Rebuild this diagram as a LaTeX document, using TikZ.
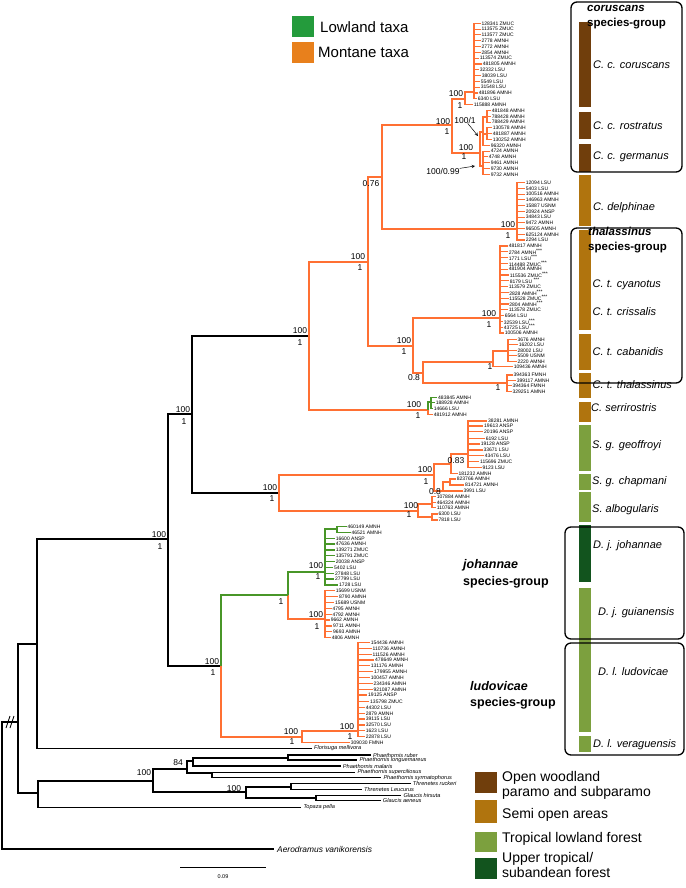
\documentclass[tikz,border=0pt]{standalone}
\usepackage{fontspec}
\setmainfont{Liberation Sans}
\usetikzlibrary{arrows,calc}
\definecolor{MontaneClr}{RGB}{255,112,51}
\definecolor{LowlandClr}{RGB}{72,150,40}
\definecolor{LegLowClr}{RGB}{36,155,60}
\definecolor{LegMonClr}{RGB}{232,128,28}
\definecolor{WoodClr}{RGB}{112,62,12}
\definecolor{SemiClr}{RGB}{176,116,14}
\definecolor{ForestClr}{RGB}{124,160,62}
\definecolor{UpperClr}{RGB}{18,84,30}

\tikzset{
  bbone/.style={line width=1.4pt,black},
  mont/.style={line width=1.6pt,MontaneClr},
  lowl/.style={line width=1.6pt,LowlandClr},
  outg/.style={line width=1.1pt,black},
  tiptxt/.style={anchor=west,inner sep=0.7pt,font=\fontsize{5}{5}\selectfont},
  ogtxt/.style={anchor=west,inner sep=2pt,font=\fontsize{5.6}{6}\selectfont\itshape},
  supp/.style={inner sep=0pt,font=\fontsize{8.5}{9}\selectfont},
  taxon/.style={anchor=west,inner sep=0pt,font=\fontsize{11}{13}\selectfont\itshape},
  grp/.style={anchor=west,align=left,inner sep=0pt,font=\fontsize{11.5}{15}\selectfont\bfseries},
  legtxt/.style={anchor=west,align=left,inner sep=0pt,font=\fontsize{14}{15}\selectfont},
  arw/.style={-stealth,line width=.5pt,black}
}

% tips of one cluster: style, parent, prefix, list x/y/label
\newcommand{\tipset}[4]{%
  \foreach \lx/\ly/\txt [count=\i] in {#4}{%
    \node[tiptxt] (#3-\i) at (\lx,\ly) {\txt};
    \draw[#1,line width=1.1pt] (#2) |- (#3-\i.west);
  }%
}
\newcommand{\ogtips}[3]{%
  \foreach \lx/\ly/\txt [count=\i] in {#3}{%
    \node[ogtxt] (#2-\i) at (\lx,\ly) {\txt};
    \draw[outg] (#1) |- (#2-\i.west);
  }%
}

\begin{document}
\begin{tikzpicture}[x=1pt,y=-1pt]
\useasboundingbox (0,0) rectangle (685,888);

% tree nodes
\coordinate (R) at (2,785);
\coordinate (n1) at (18,722);
\coordinate (n2) at (37,644);
\coordinate (n3) at (168,539);
\coordinate (n4) at (192,414);
\coordinate (nC) at (309,336);
\coordinate (nA) at (368,262);
\coordinate (nB) at (382,177);
\coordinate (nCor) at (452,125);
\coordinate (nCc) at (465,99);
\coordinate (kC) at (474,92);
\coordinate (nCr) at (480,153);
\coordinate (kR1) at (483,132);
\coordinate (kR1a) at (487,117);
\coordinate (kR1b) at (487,134);
\coordinate (kG) at (483,166);
\coordinate (nDel) at (517,229);
\coordinate (nT) at (413,346);
\coordinate (nTc) at (500,318);
\coordinate (nTb) at (423,373);
\coordinate (nTcab) at (493,362);
\coordinate (kCab) at (508,351);
\coordinate (nTth) at (507,383);
\coordinate (nSer) at (428,410);
\coordinate (kSer) at (431,402);
\coordinate (nS) at (279,493);
\coordinate (nSg) at (434,475);
\coordinate (nGeo) at (451,464);
\coordinate (kGeo) at (468,454);
\coordinate (nCha) at (443,491);
\coordinate (kCha) at (450,482);
\coordinate (nSa) at (418,511);
\coordinate (kSa1) at (432,504);
\coordinate (kSa2) at (432,517);
\coordinate (nJ) at (221,666);
\coordinate (nJj) at (288,595);
\coordinate (nJo) at (325,572);
\coordinate (kJo) at (337,529);
\coordinate (nJg) at (325,619);
\coordinate (nL) at (302,737);
\coordinate (nLu) at (358,731);
\coordinate (nOG) at (38,793);
\coordinate (nPh) at (153,781);
\coordinate (nP) at (187,769);
\coordinate (kP1) at (193,761);
\coordinate (kP1a) at (288,758);
\coordinate (kP2) at (212,773);
\coordinate (nTG) at (246,792);
\coordinate (kT1) at (291,787);
\coordinate (kT2) at (316,798);

% legend (top)
\fill[LegLowClr] (292,16) rectangle (314,37);
\fill[LegMonClr] (292,42) rectangle (314,63);
\node[anchor=west,inner sep=0pt,font=\fontsize{15}{15}\selectfont] (legLow) at (320,27) {Lowland taxa};
\node[anchor=west,inner sep=0pt,font=\fontsize{15}{15}\selectfont] (legMon) at (318,52) {Montane taxa};

% backbone
\draw[bbone] (R) |- (n1) (n1) |- (n2) (n1) |- (nOG) (n2) |- (n3)
  (n3) |- (n4) (n3) |- (nJ) (n4) |- (nC) (n4) |- (nS);
\draw[bbone,line width=.8pt] (6,728) -- (10,716) (10,728) -- (14,716);

% montane clades
\draw[mont] (nC) |- (nA) (nC) |- (nSer) (nA) |- (nB) (nA) |- (nT)
  (nB) |- (nCor) (nB) |- (nDel) (nCor) |- (nCc) (nCor) |- (nCr)
  (nCc) |- (kC) (nCr) |- (kR1) (nCr) |- (kG) (kR1) |- (kR1a) (kR1) |- (kR1b)
  (nT) |- (nTc) (nT) |- (nTb) (nTb) |- (nTcab) (nTb) |- (nTth) (nTcab) |- (kCab)
  (nS) |- (nSg) (nS) |- (nSa) (nSg) |- (nGeo) (nSg) |- (nCha)
  (nGeo) |- (kGeo) (nCha) |- (kCha) (nSa) |- (kSa1) (nSa) |- (kSa2)
  (nJ) |- (nL) (nJj) |- (nJg) (nL) |- (nLu);
\draw[lowl] (nSer) |- (kSer) (nJ) |- (nJj) (nJj) |- (nJo) (nJo) |- (kJo);

% tips
\tipset{mont}{kC}{cor}{480.7/23.3/128341 ZMUC, 480.7/29.1/113575 ZMUC, 480.7/34.9/113577 ZMUC, 480.7/40.7/2778 AMNH, 480.7/46.5/2772 AMNH, 480.7/52.4/2854 AMNH, 479/58.2/113574 ZMUC, 482/64/481805 AMNH, 479/69.8/32332 LSU, 481/75.6/38039 LSU, 480/81.4/5549 LSU, 480/87.2/31548 LSU, 478/93/481896 AMNH, 477/98.8/6340 LSU}
\tipset{mont}{nCc}{corb}{473/104.6/115888 AMNH}
\tipset{mont}{kR1a}{ros}{491/110.5/481848 AMNH, 491/116.3/788428 AMNH, 491/122.1/788429 AMNH}
\tipset{mont}{kR1b}{rosb}{492/127.9/130578 AMNH, 492/133.7/481887 AMNH, 492/139.5/130252 AMNH}
\tipset{mont}{kR1}{rosc}{490/145.3/96320 AMNH}
\tipset{mont}{kG}{ger}{490/151.1/4724 AMNH, 488/156.9/4748 AMNH, 490/162.7/9461 AMNH, 490/168.5/9730 AMNH, 490/174.3/9732 AMNH}
\tipset{mont}{nDel}{del}{525/182.7/12094 LSU, 525/188.4/5403 LSU, 525/194.2/100516 AMNH, 525/199.9/146963 AMNH, 525/205.6/15887 USNM, 525/211.4/20924 ANSP, 525/217.1/34843 LSU, 525/222.8/9472 AMNH, 525/228.5/96505 AMNH, 525/234.3/625124 AMNH, 525/240/2294 LSU}
\tipset{mont}{nTc}{cya}{508/246/481817 AMNH, 508/251.8/2784 AMNH\textsuperscript{***}, 508/257.6/1771 LSU\textsuperscript{***}, 508/263.4/114488 ZMUC\textsuperscript{***}, 508/269.2/481904 AMNH, 509/275/115536 ZMUC\textsuperscript{***}, 509/280.8/8179 LSU \textsuperscript{***}, 508/286.6/113579 ZMUC, 508.5/292.4/2828 AMNH\textsuperscript{***}, 508.5/298.2/115528 ZMUC\textsuperscript{***}, 508.5/304/2804 AMNH\textsuperscript{***}, 508/309.8/113578 ZMUC, 504/315.6/6564 LSU, 503/321.4/32539 LSU\textsuperscript{***}, 503/327.2/43725 LSU\textsuperscript{***}, 504/333/100506 AMNH}
\tipset{mont}{kCab}{cab}{516.7/339.3/3676 AMNH, 518/344.8/16202 LSU, 516.7/350.3/28002 LSU, 516.7/355.8/5509 USNM, 516.7/361.3/2220 AMNH}
\tipset{mont}{nTcab}{cabb}{513/366.8/109436 AMNH}
\tipset{mont}{nTth}{tha}{512.7/375/394363 FMNH, 516/380.7/399117 AMNH, 511.7/385.7/394364 FMNH, 511.7/391.7/329251 AMNH}
\tipset{lowl}{kSer}{ser}{437.3/397.3/483845 AMNH, 435/402.7/188928 AMNH, 433/408.3/14666 LSU}
\tipset{mont}{nSer}{serb}{433/414.3/481912 AMNH}
\tipset{mont}{kGeo}{geo}{487.3/421/38281 AMNH, 483.3/426/19613 ANSP, 483.3/431.7/20196 ANSP, 485/438.3/6192 LSU, 480/444/19128 ANSP, 482.7/450/33671 LSU, 484/455.7/43476 LSU, 479.3/461.7/115696 ZMUC, 481.7/467.7/9123 LSU}
\tipset{mont}{nGeo}{geob}{457.7/473.3/181232 AMNH}
\tipset{mont}{kCha}{cha}{456/479/823766 AMNH, 464.3/485/814721 AMNH}
\tipset{mont}{nCha}{chab}{462.7/491/3991 LSU}
\tipset{mont}{kSa1}{alb}{436/496.7/107884 AMNH, 436/502.3/464324 AMNH, 436/507.7/110763 AMNH}
\tipset{mont}{kSa2}{albb}{437.7/514/6300 LSU, 437.7/520/7818 LSU}
\tipset{lowl}{kJo}{joh}{346.7/526.7/460149 AMNH, 350.7/532.3/46521 AMNH}
\tipset{lowl}{nJo}{johb}{335/538.3/16600 ANSP, 335/544/47636 AMNH, 335/550/139271 ZMUC, 335/555.7/135791 ZMUC, 335/561.7/20038 ANSP, 333.3/567.3/5402 LSU, 334.3/573.3/27848 LSU, 334.3/579/27799 LSU, 338.3/585/1728 LSU}
\tipset{mont}{nJg}{gui}{335/590.7/15699 USNM, 338.3/596.7/8790 AMNH, 334.3/602.3/15689 USNM, 331.7/608.3/4795 AMNH, 331.7/614.3/4792 AMNH, 330/620/9662 AMNH, 332.3/626/9711 AMNH, 332.3/631.7/9693 AMNH, 331/637.7/4806 AMNH}
\tipset{mont}{nLu}{lud}{370/642.7/154436 AMNH, 371.7/648.3/110736 AMNH, 371.7/654.3/111526 AMNH, 374.3/660/478649 AMNH, 370/665.7/131176 AMNH, 373.3/671.7/179955 AMNH, 370/677.3/100457 AMNH, 372.7/683.3/234346 AMNH, 372.7/689.3/921087 AMNH, 367.3/695/19125 ANSP, 369.3/701.7/135798 ZMUC, 365/707.3/44302 LSU, 365/713.3/2879 AMNH, 365/719/39115 LSU, 365/725/32570 LSU, 365/730.7/1623 LSU, 365/736.7/22878 LSU}
\tipset{mont}{nL}{ver}{350/742.7/309030 FMNH}

% outgroups
\draw[outg] (nOG) |- (nPh) (nPh) |- (nP) (nPh) |- (nTG) (nP) |- (kP1) (nP) |- (kP2)
  (kP1) |- (kP1a) (nTG) |- (kT1) (nTG) |- (kT2);
\ogtips{n2}{flo}{312/748.3/Florisuga mellivora}
\ogtips{kP1a}{pha}{371/755/Phaethornis ruber, 357.3/760/Phaethornis longuemareus}
\ogtips{kP1}{phb}{340.7/766/Phaethornis malaris}
\ogtips{kP2}{phc}{355.3/772.3/Phaethornis superciliosus, 381.3/777.7/Phaethornis syrmatophorus}
\ogtips{kT1}{thr}{410.7/783.3/Threnetes ruckeri, 362/789.3/Threnetes Leucurus}
\ogtips{kT2}{gla}{401.3/795.7/Glaucis hirsuta, 380.7/800.7/Glaucis aeneus}
\ogtips{nOG}{top}{301.3/807.3/Topaza pella}
\node[anchor=west,inner sep=3pt,font=\fontsize{8.4}{9}\selectfont\itshape] (aer) at (274,849) {Aerodramus vanikorensis};
\draw[bbone] (R) |- (aer.west);

% support values
\foreach \bx/\by/\btxt [count=\i] in {159/535/100, 160/547/1, 183/410/100, 184/422/1, 300/331/100, 300/343/1, 270/488/100, 272/499/1, 212/662/100, 213/673/1, 281/602/1, 316/566/100, 318/577/1, 316/615/100, 317/627/1, 291/732/100, 292/742/1, 347/727/100, 350/737/1, 358/257/100, 360/268/1, 371/184/0.76, 443/122/100, 447/132/1, 456/94/100, 460/106/1, 466/148/100, 464/157/1, 508/225/100, 508/236/1, 404/341/100, 404/352/1, 489/314/100, 489/325/1, 414/378/0.8, 490/367/1, 498/388/1, 414/405/100, 418/416/1, 425/470/100, 426/482/1, 456/461/0.83, 435/492/0.8, 411/506/100, 409/515/1, 144/773/100, 178/763/84, 234/789/100}
  \node[supp] (bs-\i) at (\bx,\by) {\btxt};
\node[supp] (arwA) at (465,120) {100/1};
\node[supp] (arwB) at (443,171) {100/0.99};
\coordinate (arwAend) at (478,136);
\coordinate (arwBend) at (475,166);
\draw[arw] (arwA) -- (arwAend);
\draw[arw] (arwB) -- (arwBend);

% scale bar
\coordinate (sbL) at (180,867);
\coordinate (sbR) at (266,867);
\draw[line width=.9pt] (sbL) -- (sbR);
\node[inner sep=0pt,font=\fontsize{5.5}{6}\selectfont] (sbTxt) at (223,877) {0.09};

% habitat bars
\foreach \ya/\yb/\clr in {22/107/WoodClr, 112/139/WoodClr, 144/172/WoodClr, 175/226/SemiClr, 230/330/SemiClr, 334/370/SemiClr, 373/398/SemiClr, 402/422/SemiClr, 425/471/ForestClr, 474/490/ForestClr, 492/522/ForestClr, 525/582/UpperClr, 588/732/ForestClr, 736/752/ForestClr}
  \fill[\clr] (579,\ya) rectangle (591,\yb);

% species-group boxes
\draw[line width=1.3pt,rounded corners=6pt] (571,2) rectangle (682,172);
\draw[line width=1.3pt,rounded corners=6pt] (571,228) rectangle (682,383);
\draw[line width=1.3pt,rounded corners=6pt] (565,527) rectangle (684,639);
\draw[line width=1.3pt,rounded corners=6pt] (565,643) rectangle (684,755);

\node[grp] (grpCor) at (587,17.5) {\textit{coruscans}\\species-group};
\node[grp] (grpTha) at (588,240.5) {\textit{thalassinus}\\species-group};
\node[grp,font=\fontsize{12.5}{17}\selectfont\bfseries] (grpJoh) at (463,573.5) {\textit{johannae}\\species-group};
\node[grp,font=\fontsize{12.5}{16}\selectfont\bfseries] (grpLud) at (470,695) {\textit{ludovicae}\\species-group};

\foreach \tx/\ty/\txt [count=\i] in {593/65/C. c. coruscans, 593/126/C. c. rostratus, 593/157/C. c. germanus, 593/208/C. delphinae, 592.5/285/C. t. cyanotus, 592.5/312/C. t. crissalis, 592.5/352/C. t. cabanidis, 592.5/385/C. t. thalassinus, 591/408/C. serrirostris, 592/446/S. g. geoffroyi, 592/482/S. g. chapmani, 592/510/S. albogularis, 593/546/D. j. johannae, 598/613/D. j. guianensis, 598/672/D. l. ludovicae, 593/745/D. l. veraguensis}
  \node[taxon] (tax-\i) at (\tx,\ty) {\txt};

% legend (habitat)
\fill[WoodClr] (475,772) rectangle (497,793);
\fill[SemiClr] (475,800) rectangle (497,823);
\fill[ForestClr] (475,832) rectangle (497,852);
\fill[UpperClr] (475,858) rectangle (497,879);
\node[legtxt] (legWood) at (502,785.5) {Open woodland\\paramo and subparamo};
\node[legtxt] (legSemi) at (502,815) {Semi open areas};
\node[legtxt] (legTrop) at (502,839) {Tropical lowland forest};
\node[legtxt] (legUp) at (502,864.5) {Upper tropical/\\subandean forest};

\end{tikzpicture}
\end{document}
